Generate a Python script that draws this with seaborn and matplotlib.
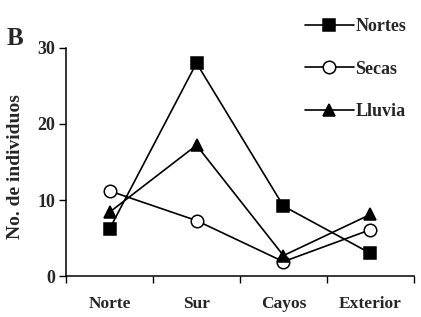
import matplotlib
matplotlib.use('Agg')
import matplotlib.pyplot as plt
import seaborn as sns
import pandas as pd

categorias = ["Norte", "Sur", "Cayos", "Exterior"]
nortes = [6.2, 28.0, 9.2, 3.0]
secas = [11.2, 7.3, 1.9, 6.1]
lluvia = [8.4, 17.2, 2.7, 8.1]

sns.set_style("ticks")
plt.rcParams['font.family'] = ['Liberation Serif', 'DejaVu Serif']
plt.rcParams['font.weight'] = 'bold'

fig = plt.figure(figsize=(4.21, 3.17), dpi=100)
ax = fig.add_axes([0.157, 0.129, 0.826, 0.72])

series = [
    ("Nortes", nortes, dict(marker="s", markerfacecolor="black")),
    ("Secas", secas, dict(marker="o", markerfacecolor="white")),
    ("Lluvia", lluvia, dict(marker="^", markerfacecolor="black")),
]
for nombre, vals, estilo in series:
    df = pd.DataFrame({"x": range(len(categorias)), "y": vals})
    sns.lineplot(data=df, x="x", y="y", ax=ax, color="black", linewidth=1.2,
                 markersize=9, markeredgecolor="black", markeredgewidth=1.1,
                 label=nombre, **estilo)

ax.set_xlim(-0.5, 3.5)
ax.set_ylim(0, 30)
ax.set_yticks([0, 10, 20, 30])
ax.set_xticks(range(len(categorias)))
ax.set_xticklabels(categorias, fontsize=12.5, fontweight='bold')
ax.set_xticks([-0.5, 0.5, 1.5, 2.5, 3.5], minor=True)
ax.tick_params(axis='x', which='major', length=0, pad=14)
ax.tick_params(axis='x', which='minor', length=5, width=1, color='black', direction='out')
ax.tick_params(axis='y', length=5, width=1, color='black', labelsize=13, pad=3)
for lab in ax.get_yticklabels():
    lab.set_fontweight('bold')
ax.set_xlabel("")
ax.set_ylabel("No. de individuos", fontsize=14, fontweight='bold')
ax.yaxis.set_label_coords(-0.122, 0.48)
for s in ["left", "bottom"]:
    ax.spines[s].set_linewidth(1.1)
    ax.spines[s].set_color("black")
sns.despine(ax=ax)

ax.legend(loc="upper left", bbox_to_anchor=(0.64, 1.20), frameon=False,
          handlelength=2.7, handletextpad=0.1, labelspacing=1.4,
          prop={'size': 13, 'weight': 'bold'})

fig.text(0.016, 0.858, "B", fontsize=18, fontweight='bold')

fig.savefig("out.png", dpi=100)
